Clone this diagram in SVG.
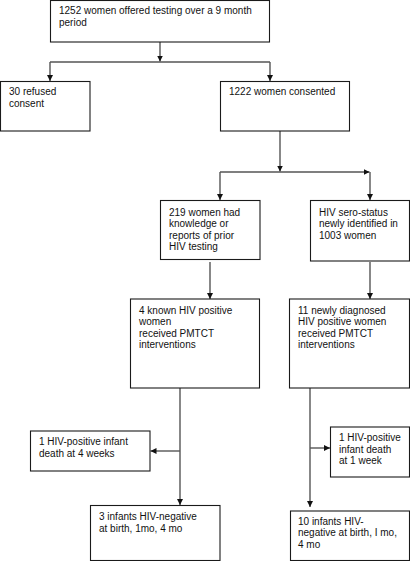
<svg xmlns="http://www.w3.org/2000/svg" width="410" height="561" viewBox="0 0 410 561">
<defs>
<style>
.box{fill:#fff;stroke:#1a1a1a;stroke-width:1.1}
.t{font-family:"Liberation Sans",Arial,sans-serif;font-size:10px;fill:#111}
.c{fill:none;stroke:#555;stroke-width:1.4}
</style>
<marker id="ah" markerUnits="userSpaceOnUse" markerWidth="7" markerHeight="7" refX="6" refY="3" orient="auto">
<path d="M0,0 L6,3 L0,6 Z" fill="#111"/>
</marker>
</defs>
<rect width="410" height="561" fill="#fff"/>
<g id="connectors">
<path class="c" d="M160,42 V61.5" marker-end="url(#ah)"/>
<path class="c" d="M50,62 H270"/>
<path class="c" d="M50,62 V81" marker-end="url(#ah)"/>
<path class="c" d="M270,62 V81" marker-end="url(#ah)"/>
<path class="c" d="M280,131 V171.5" marker-end="url(#ah)"/>
<path class="c" d="M220,172 H369.5" marker-end="url(#ah)"/>
<path class="c" d="M220,172 V200" marker-end="url(#ah)"/>
<path class="c" d="M370,172 V200" marker-end="url(#ah)"/>
<path class="c" d="M210,262 V299" marker-end="url(#ah)"/>
<path class="c" d="M370,262 V299" marker-end="url(#ah)"/>
<path class="c" d="M180,388 V505" marker-end="url(#ah)"/>
<path class="c" d="M180,451 H150.5" marker-end="url(#ah)"/>
<path class="c" d="M310,388 V507" marker-end="url(#ah)"/>
<path class="c" d="M310,448 H330" marker-end="url(#ah)"/>
</g>
<g id="n1">
<rect class="box" x="50.5" y="0.5" width="219" height="41.5"/>
<text class="t" x="59" y="14"><tspan x="59">1252 women offered testing over a 9 month</tspan><tspan x="59" y="25.5">period</tspan></text>
</g>
<g id="n2">
<rect class="box" x="0.5" y="81.5" width="89.5" height="49.5"/>
<text class="t" x="9" y="95"><tspan x="9">30 refused</tspan><tspan x="9" y="106.5">consent</tspan></text>
</g>
<g id="n3">
<rect class="box" x="220.5" y="81.5" width="129" height="49.5"/>
<text class="t" x="229" y="95">1222 women consented</text>
</g>
<g id="n4">
<rect class="box" x="160.5" y="200.5" width="99.5" height="59"/>
<text class="t" x="169" y="215.5"><tspan x="169">219 women had</tspan><tspan x="169" y="227">knowledge or</tspan><tspan x="169" y="238.5">reports of prior</tspan><tspan x="169" y="250">HIV testing</tspan></text>
</g>
<g id="n5">
<rect class="box" x="310.5" y="200.5" width="99" height="60.5"/>
<text class="t" x="319" y="215.5"><tspan x="319">HIV sero-status</tspan><tspan x="319" y="227">newly identified in</tspan><tspan x="319" y="238.5">1003 women</tspan></text>
</g>
<g id="n6">
<rect class="box" x="130.5" y="299" width="129" height="89"/>
<text class="t" x="139" y="313.5"><tspan x="139">4 known HIV positive</tspan><tspan x="139" y="325">women</tspan><tspan x="139" y="336.5">received PMTCT</tspan><tspan x="139" y="348">interventions</tspan></text>
</g>
<g id="n7">
<rect class="box" x="289.5" y="299" width="120" height="89"/>
<text class="t" x="298" y="313.5"><tspan x="298">11 newly diagnosed</tspan><tspan x="298" y="325">HIV positive women</tspan><tspan x="298" y="336.5">received PMTCT</tspan><tspan x="298" y="348">interventions</tspan></text>
</g>
<g id="n8">
<rect class="box" x="30.5" y="431" width="119.5" height="40"/>
<text class="t" x="39" y="445"><tspan x="39">1 HIV-positive infant</tspan><tspan x="39" y="456.5">death at 4 weeks</tspan></text>
</g>
<g id="n9">
<rect class="box" x="330.5" y="427" width="79" height="50"/>
<text class="t" x="339" y="441"><tspan x="339">1 HIV-positive</tspan><tspan x="339" y="452.5">infant death</tspan><tspan x="339" y="464">at 1 week</tspan></text>
</g>
<g id="n10">
<rect class="box" x="90.5" y="505.5" width="129.5" height="55"/>
<text class="t" x="99" y="520"><tspan x="99">3 infants HIV-negative</tspan><tspan x="99" y="531.5">at birth, 1mo, 4 mo</tspan></text>
</g>
<g id="n11">
<rect class="box" x="290.5" y="511" width="119" height="49.5"/>
<text class="t" x="298" y="524.5"><tspan x="298">10 infants HIV-</tspan><tspan x="298" y="536">negative at birth, I mo,</tspan><tspan x="298" y="547.5">4 mo</tspan></text>
</g>
</svg>
